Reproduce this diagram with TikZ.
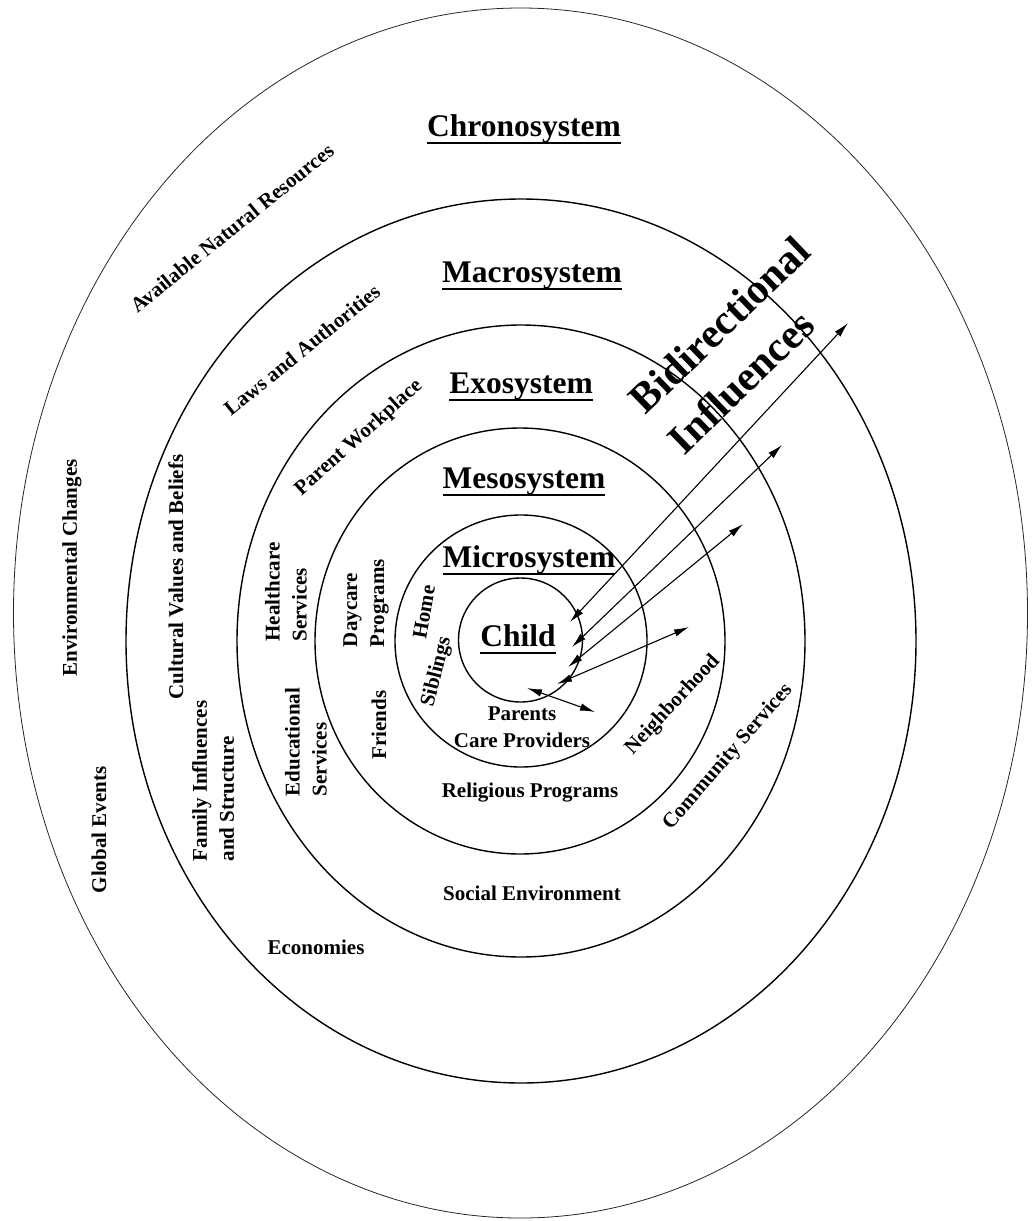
\documentclass[tikz,border=0pt]{standalone}
\usepackage{fontspec}
\setmainfont{Liberation Serif}
\usetikzlibrary{arrows.meta}
\newsavebox{\sysbox}
\newcommand{\sysul}[1]{\sbox{\sysbox}{#1}\rlap{\rule[-8pt]{\wd\sysbox}{2pt}}\usebox{\sysbox}}
\tikzset{
    ring/.style={line width=1.4pt},
    sysname/.style={font=\fontsize{31.5}{36}\selectfont\bfseries, anchor=base},
    item/.style={font=\fontsize{21}{27}\selectfont\bfseries, inner sep=0pt},
    influence/.style={line width=1.1pt,
        {Latex[length=15pt,width=7.5pt]}-{Latex[length=15pt,width=7.5pt]}},
}

\begin{document}
\begin{tikzpicture}[x=1pt, y=-1pt]
    \useasboundingbox (0,0) rectangle (1032,1221);
    % nested systems
    \draw[line width=0.8pt, black!85] (520.5,613) ellipse [x radius=507pt, y radius=605pt];
    \draw[ring] (521,641) ellipse [x radius=395pt, y radius=442pt];
    \draw[ring] (521,641) ellipse [x radius=284pt, y radius=316pt];
    \draw[ring] (520,641) ellipse [x radius=205pt, y radius=213pt];
    \draw[ring] (521,641) circle [radius=126pt];
    \draw[ring] (520.5,640) circle [radius=62pt];

    % system names
    \node[sysname] (chrono) at (524,136) {\sysul{Chronosystem}};
    \node[sysname] (macro) at (532,282) {\sysul{Macrosystem}};
    \node[sysname] (exo) at (521,393) {\sysul{Exosystem}};
    \node[sysname] (meso) at (524,488) {\sysul{Mesosystem}};
    \node[sysname] (micro) at (529,567) {\sysul{Microsystem}};
    \node[sysname] (child) at (518,646) {\sysul{Child}};

    % what each system holds
    \node[item, rotate=39] (resources) at (232,228) {Available Natural Resources};
    \node[item, rotate=90] (envchanges) at (72,568) {Environmental Changes};
    \node[item, rotate=90] (global) at (99,830) {Global Events};
    \node[item, rotate=39] (laws) at (302,350) {Laws and Authorities};
    \node[item, rotate=90] (cultural) at (176,577) {Cultural Values and Beliefs};
    \node[item, rotate=90, align=left] (family) at (213,781) {Family Influences\\and Structure};
    \node[item] (economies) at (316,947) {Economies};
    \node[item] (social) at (532,893) {Social Environment};
    \node[item, rotate=42] (workplace) at (359,438) {Parent Workplace};
    \node[item, rotate=90, align=left] (health) at (286,592) {Healthcare\\Services};
    \node[item, rotate=90, align=left] (education) at (306,742) {Educational\\Services};
    \node[item, rotate=49] (community) at (728,757) {Community Services};
    \node[item, rotate=90, align=left] (daycare) at (366,603) {Daycare\\Programs};
    \node[item, rotate=90] (friends) at (379,725) {Friends};
    \node[item] (religious) at (530,793) {Religious Programs};
    \node[item, rotate=47] (neighborhood) at (673,705) {Neighborhood};
    \node[item, rotate=80] (home) at (424,612) {Home};
    \node[item, rotate=76] (siblings) at (437,672) {Siblings};
    \node[item] (parents) at (522,714) {Parents};
    \node[item] (carers) at (522,740) {Care Providers};

    \node[font=\fontsize{42}{56}\selectfont\bfseries, rotate=44, align=left, inner sep=0pt]
        (bidir) at (739,345) {Bidirectional\\Influences};

    % bidirectional influences
    \foreach \xa/\ya/\xb/\yb [count=\i] in
        {570/622/848/323, 572/647/782/445, 568/667/743/524, 557/684/689/627, 527/688/595/712}
    {
        \coordinate (in\i) at (\xa,\ya);
        \coordinate (out\i) at (\xb,\yb);
        \draw[influence] (in\i) -- (out\i);
    }
\end{tikzpicture}
\end{document}
